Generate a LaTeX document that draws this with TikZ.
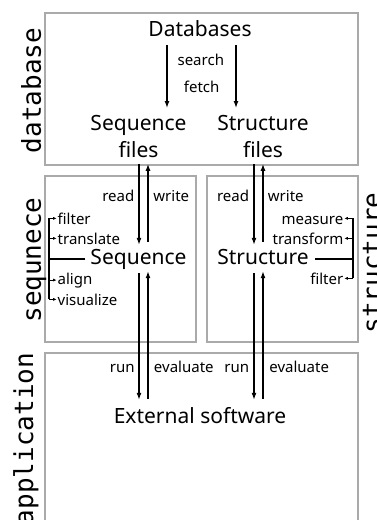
\documentclass[tikz,border=0pt]{standalone}
\usepackage{fontspec}
\setmainfont{Noto Sans}
\newfontfamily\sidefont{DejaVu Sans Mono}
\usetikzlibrary{arrows.meta,calc}
\definecolor{boxgray}{RGB}{170,170,170}
\tikzset{
  box/.style={draw=boxgray, line width=1.5pt},
  big/.style={font=\fontsize{21}{27}\selectfont, inner sep=0pt, text height=15pt, text depth=5pt},
  bigm/.style={font=\fontsize{21}{27}\selectfont, inner sep=0pt, align=center},
  lab/.style={font=\fontsize{15}{18}\selectfont, inner sep=0pt},
  blab/.style={lab, text height=11.4pt},
  side/.style={font=\fontsize{26}{30}\sidefont, inner sep=0pt, rotate=90, anchor=base},
  arr/.style={line width=1.3pt, -{Latex[length=7pt,width=5pt]}},
  ln/.style={line width=1.2pt},
  tinyarr/.style={line width=1pt, -{Latex[length=3.5pt,width=3pt]}},
}
\begin{document}
\begin{tikzpicture}[x=1pt,y=1pt]
\useasboundingbox (0,0) rectangle (377,-520);
\clip (0,0) rectangle (377,-520);
% boxes
\draw[box] (45,-13) rectangle (358,-165);
\draw[box] (45,-176) rectangle (196,-342);
\draw[box] (207,-176) rectangle (358,-342);
\draw[box] (45,-353) rectangle (358,-535);
% side labels
\node[side] (ldb) at (41,-90.5) {database};
\node[side] (lseq) at (41,-260) {sequnece};
\node[side] (lapp) at (33,-439) {application};
\node[side] (lstr) at (381,-263) {structure};
% main nodes
\node[big, anchor=base] (db) at (200,-36.5) {Databases};
\node[bigm, anchor=north] (seqfiles) at (138.5,-115) {Sequence\\files};
\node[bigm, anchor=north] (strfiles) at (263,-115) {Structure\\files};
\node[big, anchor=base] (seq) at (138.5,-264) {Sequence};
\node[big, anchor=base] (str) at (263,-264) {Structure};
\node[big, anchor=base] (ext) at (200,-423) {External software};
% database arrows
\draw[arr] ($(db.south)+(-33,-3.5)$) -- ($(seqfiles.north)+(28.5,7)$);
\draw[arr] ($(db.south)+(36,-3.5)$) -- ($(strfiles.north)+(-27,7)$);
\node[lab, anchor=base] (lsearch) at (200.8,-65) {search};
\node[lab, anchor=base] (lfetch) at (201.7,-92) {fetch};
% read / write
\draw[arr] ($(seqfiles.south)+(0.5,-6)$) -- ($(seq.north)+(0.5,4)$);
\draw[arr] ($(seq.north)+(9.5,7)$) -- ($(seqfiles.south)+(9.5,-6)$);
\draw[arr] ($(strfiles.south)+(-9,-6)$) -- ($(str.north)+(-9,4)$);
\draw[arr] ($(str.north)+(0,7)$) -- ($(strfiles.south)+(0,-6)$);
\node[lab, anchor=base] (lread1) at (118.3,-201) {read};
\node[lab, anchor=base] (lwrite1) at (171.3,-201) {write};
\node[lab, anchor=base] (lread2) at (233,-201) {read};
\node[lab, anchor=base] (lwrite2) at (285.8,-201) {write};
% run / evaluate
\draw[arr] ($(seq.south)+(0.5,-4)$) -- ($(ext.north)+(-61,8)$);
\draw[arr] ($(ext.north)+(-52,9)$) -- ($(seq.south)+(9.5,-2)$);
\draw[arr] ($(str.south)+(-9,-4)$) -- ($(ext.north)+(54,8)$);
\draw[arr] ($(ext.north)+(63,9)$) -- ($(str.south)+(0,-2)$);
\node[lab, anchor=base] (lrun1) at (122.2,-372) {run};
\node[lab, anchor=base] (leval1) at (183.8,-372) {evaluate};
\node[lab, anchor=base] (lrun2) at (236.8,-372) {run};
\node[lab, anchor=base] (leval2) at (299.2,-372) {evaluate};
% sequence operations
\coordinate (sqb) at (49,-258);
\node[blab, anchor=base west] (sfilter) at (57.5,-224) {filter};
\node[blab, anchor=base west] (stransl) at (57.5,-244) {translate};
\node[blab, anchor=base west] (salign) at (57.5,-284) {align};
\node[blab, anchor=base west] (svis) at (57.5,-305) {visualize};
\draw[ln] ([xshift=-5pt]seq.west) -- (sqb |- seq.west);
\draw[ln] (sqb |- sfilter.west) -- (sqb |- svis.west);
\foreach \n in {sfilter,stransl,salign,svis}
  \draw[tinyarr, shorten >=0.8pt] (sqb |- \n.west) -- (\n.west);
% structure operations
\coordinate (stb) at (353,-258);
\node[blab, anchor=base east] (tmeas) at (343.5,-224) {measure};
\node[blab, anchor=base east] (ttrans) at (343.5,-244) {transform};
\node[blab, anchor=base east] (tfilter) at (343.5,-284) {filter};
\draw[ln] ([xshift=6pt]str.east) -- (stb |- str.east);
\draw[ln] (stb |- tmeas.east) -- (stb |- tfilter.east);
\foreach \n in {tmeas,ttrans,tfilter}
  \draw[tinyarr, shorten >=0.8pt] (stb |- \n.east) -- (\n.east);
\end{tikzpicture}
\end{document}
